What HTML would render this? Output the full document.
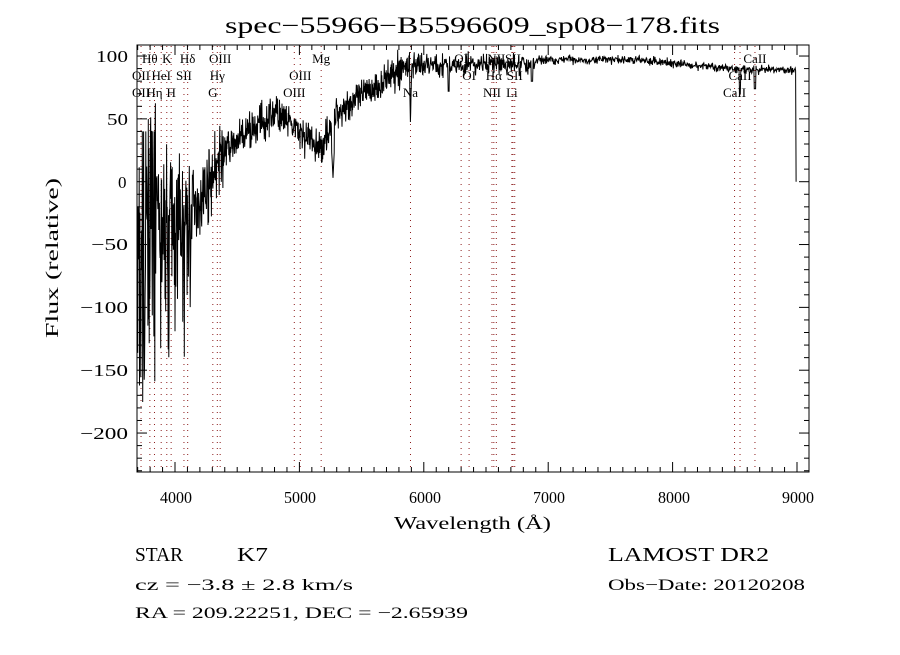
<!DOCTYPE html>
<html><head><meta charset="utf-8"><style>
html,body{margin:0;padding:0;background:#fff;}
svg text{font-family:"Liberation Serif",serif;fill:#000;}
</style></head><body>
<svg id="s" width="900" height="650" viewBox="0 0 900 650" xmlns="http://www.w3.org/2000/svg">
<rect width="900" height="650" fill="#fff"/>
<text x="225" y="33" font-size="23" textLength="495" lengthAdjust="spacingAndGlyphs">spec−55966−B5596609_sp08−178.fits</text>
<g id="lines"></g>
<g id="ticks" stroke="#000" stroke-width="1"></g>
<path id="spec" fill="none" stroke="#000" stroke-width="1"/>
<rect x="137" y="45" width="672" height="427" fill="none" stroke="#000" stroke-width="1"/>
<g font-size="17">
<text x="160" y="503" textLength="32" lengthAdjust="spacingAndGlyphs">4000</text>
<text x="284" y="503" textLength="32" lengthAdjust="spacingAndGlyphs">5000</text>
<text x="409" y="503" textLength="32" lengthAdjust="spacingAndGlyphs">6000</text>
<text x="533" y="503" textLength="32" lengthAdjust="spacingAndGlyphs">7000</text>
<text x="658" y="503" textLength="32" lengthAdjust="spacingAndGlyphs">8000</text>
<text x="782" y="503" textLength="32" lengthAdjust="spacingAndGlyphs">9000</text>
</g>
<g font-size="17">
<text x="96" y="62" textLength="32" lengthAdjust="spacingAndGlyphs">100</text>
<text x="107" y="125" textLength="21" lengthAdjust="spacingAndGlyphs">50</text>
<text x="118" y="188">0</text>
<text x="91" y="250" textLength="37" lengthAdjust="spacingAndGlyphs">−50</text>
<text x="80" y="313" textLength="48" lengthAdjust="spacingAndGlyphs">−100</text>
<text x="80" y="376" textLength="48" lengthAdjust="spacingAndGlyphs">−150</text>
<text x="80" y="439" textLength="48" lengthAdjust="spacingAndGlyphs">−200</text>
</g>
<text x="394" y="529" font-size="18" textLength="157" lengthAdjust="spacingAndGlyphs">Wavelength (Å)</text>
<text transform="translate(58,338) rotate(-90)" font-size="18" textLength="160" lengthAdjust="spacingAndGlyphs">Flux (relative)</text>
<text x="135" y="561" font-size="20" textLength="48" lengthAdjust="spacingAndGlyphs">STAR</text>
<text x="237" y="561" font-size="20" textLength="31" lengthAdjust="spacingAndGlyphs">K7</text>
<text x="608" y="561" font-size="20" textLength="161" lengthAdjust="spacingAndGlyphs">LAMOST DR2</text>
<text x="135" y="590" font-size="16" textLength="218" lengthAdjust="spacingAndGlyphs">cz = −3.8 ± 2.8 km/s</text>
<text x="608" y="590" font-size="16" textLength="197" lengthAdjust="spacingAndGlyphs">Obs−Date: 20120208</text>
<text x="135" y="618" font-size="16" textLength="333" lengthAdjust="spacingAndGlyphs">RA = 209.22251, DEC =  −2.65939</text>
<g id="labs" font-size="13" text-anchor="middle"></g>
</svg>
<script>
const X=l=>175+(l-4000)*0.1244, Y=f=>181.7-f*1.2567;
const ns="http://www.w3.org/2000/svg";
function el(t,a,p){const e=document.createElementNS(ns,t);for(const k in a)e.setAttribute(k,a[k]);document.getElementById(p).appendChild(e);return e;}
for(let l=3700;l<=9000;l+=100){const x=X(l);const L=(l%1000==0)?10:5;
el('line',{x1:x,x2:x,y1:472,y2:472-L},'ticks');el('line',{x1:x,x2:x,y1:45,y2:45+L},'ticks');}
for(let f=-230;f<=100;f+=10){const y=Y(f);const L=(f%50==0)?10:5;
el('line',{x1:137,x2:137+L,y1:y,y2:y},'ticks');el('line',{x1:809,x2:809-L,y1:y,y2:y},'ticks');}
const rows=[[3798,"Hθ",1],[3934,"K",1],[4102,"Hδ",1],[4363,"OIII",1],[5175,"Mg",1],[6300,"OI",1],[6583,"NII",1],[6717,"SII",1],[8662,"CaII",1],
[3727,"OII",2],[3889,"HeI",2],[4072,"SII",2],[4340,"Hγ",2],[5007,"OIII",2],[6364,"OI",2],[6563,"Hα",2],[6731,"SII",2],[8542,"CaII",2],
[3727,"OII",3],[3835,"Hη",3],[3969,"H",3],[4304,"G",3],[4959,"OIII",3],[5893,"Na",3],[6548,"NII",3],[6708,"Li",3],[8498,"CaII",3]];
const done={};
for(const r of rows){const x=X(r[0]);
if(!done[r[0]]){done[r[0]]=1;el('line',{x1:x,x2:x,y1:46,y2:471,stroke:'#8b1a1a','stroke-width':1,'stroke-dasharray':'1,5'},'lines');}
const t=el('text',{x:x,y:46+r[2]*17},'labs');t.textContent=r[1];}
let seed=7;const rnd=()=>{seed=(seed*16807)%2147483647;return seed/2147483647;};
const g=()=>rnd()+rnd()+rnd()-1.5;
function cont(l){
 if(l<3850)return -55;
 if(l<4150)return -40+(l-3850)/300*10;
 if(l<4400)return -25+(l-4150)/250*50;
 if(l<4800)return 25+(l-4400)/400*30;
 if(l<5180)return 55-(l-4800)/380*30;
 if(l<5300)return 30+(l-5180)/120*25;
 if(l<5900)return 55+(l-5300)/600*40;
 if(l<6900)return 93;
 if(l<7700)return 97;
 if(l<8700)return 97-(l-7700)/1000*9;
 return 89;}
function amp(l){if(l<3850)return 75;if(l<4150)return 40;if(l<4400)return 18;if(l<5300)return 10;if(l<5900)return 9;if(l<6900)return 6;return 2.4;}
let d="";
for(let l=3700;l<=8990;l+=(l<6000?2.5:3.5)){
 let f=cont(l)+g()*amp(l)*1.4;
 if(Math.abs(l-5270)<12)f=3+Math.abs(l-5270)*2;
 if(Math.abs(l-5893)<8)f=45+Math.abs(l-5893)*5;
 if(Math.abs(l-6200)<6)f=Math.min(f,72);
 if(Math.abs(l-6870)<6)f=Math.min(f,80);
 if(Math.abs(l-8542)<6)f=Math.min(f,70);
 if(Math.abs(l-8662)<6)f=Math.min(f,74);
 if(l<3760&&rnd()<0.3)f=-180+rnd()*60;
 if(l<3850&&rnd()<0.15)f=40;
 if(l>3850&&l<4100&&rnd()<0.06)f=-100-rnd()*40;
 f=Math.max(-185,Math.min(108,f));
 d+=(d?"L":"M")+X(l).toFixed(1)+","+Y(f).toFixed(1);}
d+="L"+X(8993).toFixed(1)+","+Y(0).toFixed(1);
document.getElementById('spec').setAttribute('d',d);
</script>
</body></html>
